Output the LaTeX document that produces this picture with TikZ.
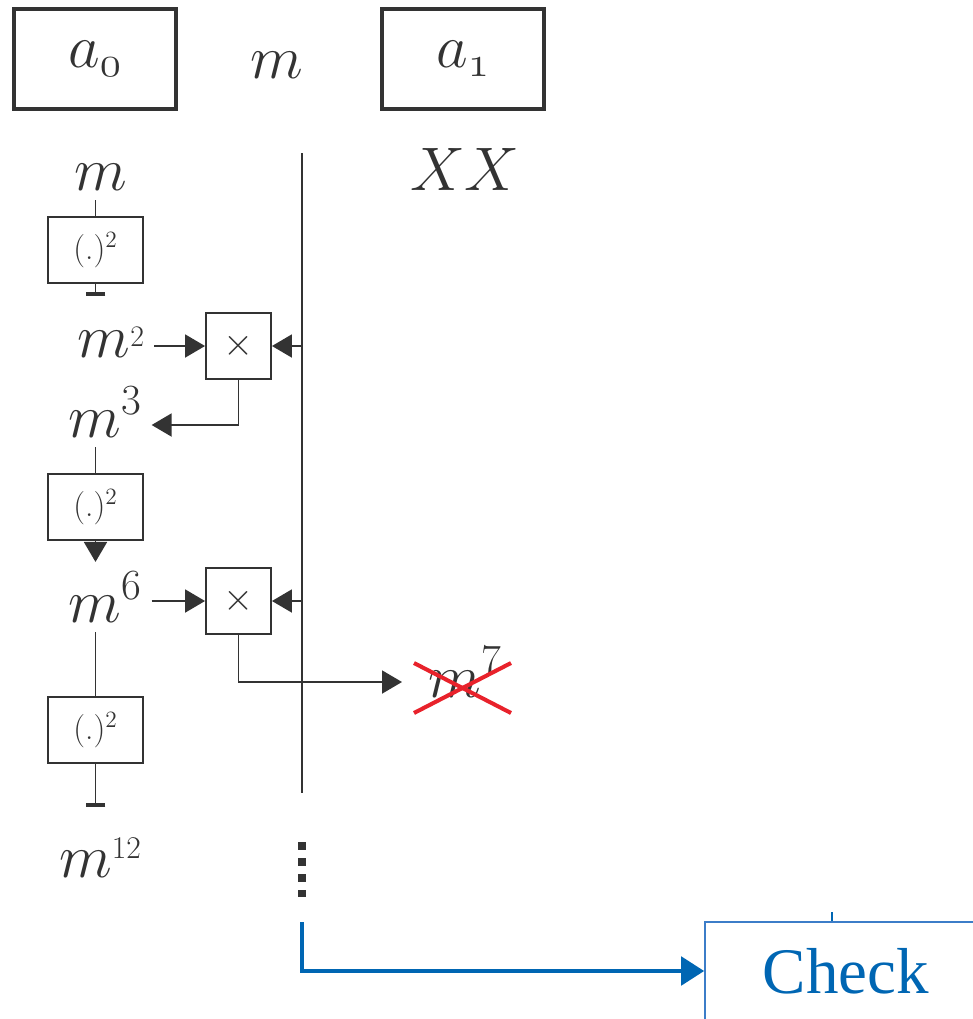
\RequirePackage{fix-cm}
\documentclass[tikz,border=0pt]{standalone}
\usepackage{fontspec}
\usepackage{tikz}
\usetikzlibrary{arrows.meta, positioning}
\newfontfamily\checkfont{Liberation Serif}
\definecolor{Ink}{HTML}{333333}
\definecolor{FlowBlue}{HTML}{0066B3}
\definecolor{BoxBlue}{HTML}{3C7DC8}
\definecolor{CrossRed}{HTML}{E8222B}
% small raised exponent
\newcommand{\smallexp}[3]{\raisebox{#2}{\fontsize{#3}{#3}\selectfont #1}}

\begin{document}
\begin{tikzpicture}[
    x=0.02cm, y=-0.02cm,
    >={Triangle[length=4mm, width=4.6mm]},
    line width=1.1pt,
    color=Ink,
    reg/.style={
        draw=Ink,
        line width=2pt,
        minimum width=3.24cm,
        minimum height=2cm,
        font=\fontsize{35}{42}\selectfont
    },
    val/.style={inner sep=0pt, outer sep=0.2cm, anchor=base, font=\fontsize{35}{42}\selectfont},
    sq/.style={draw=Ink, minimum width=1.9cm, minimum height=1.32cm, font=\fontsize{19}{22}\selectfont},
    mul/.style={draw=Ink, minimum width=1.3cm, minimum height=1.32cm, font=\fontsize{22}{26}\selectfont},
    cut/.style={-{Bar[width=4mm, line width=0.9mm]}},
    dots/.style={line width=0.16cm, dash pattern=on 1.5mm off 1.7mm},
    strike/.style={draw=CrossRed, line width=2.3pt},
    flow/.style={draw=FlowBlue, line width=2.8pt, -{Triangle[length=4.6mm, width=5.6mm]}},
    chkbox/.style={
        draw=BoxBlue,
        line width=0.9pt,
        minimum width=5.64cm,
        minimum height=1.96cm,
        text=FlowBlue,
        font=\checkfont\fontsize{37}{44}\selectfont
    }
]
\useasboundingbox (0,0) rectangle (973,1019);
\clip (0,0) rectangle (973,1019);

% registers
\node[reg] (a0) at (95,59) {$a_{\mathnormal{0}}$};
\node[val] (mtop) at (277,78) {$m$};
\node[reg] (a1) at (463,59) {$a_{\mathnormal{1}}$};

\node[val] (m1) at (101,190) {$m$};
\node[val] (xx) at (465,190) {$XX$};

% square and multiply chain
\node[sq] (sq1) at (95.5,250) {(.)$^2$};
\node[val] (m2) at (111,357) {$m$\smallexp{2}{5.7pt}{17pt}};
\node[mul] (mul1) at (238.5,346) {$\times$};
\node[val] (m3) at (105,437) {$m^3$};
\node[sq] (sq2) at (95.5,507) {(.)$^2$};
\node[val] (m6) at (105,622) {$m^6$};
\node[mul] (mul2) at (238.5,601) {$\times$};
\node[sq] (sq3) at (95.5,730) {(.)$^2$};
\node[val] (m12) at (100,877) {$m$\smallexp{12}{10.5pt}{18pt}};
\node[val, outer sep=15pt] (m7) at (465,697) {$m^7$};

\node[chkbox] (chk) at (846,971) {Check};

\coordinate (bus top) at (302,153);
\coordinate (bus bot) at (302,793);
\coordinate (stub1) at (95.5,296);
\coordinate (stub2) at (95.5,807);
\coordinate (dots top) at (302,842);
\coordinate (dots bot) at (302,897);
\coordinate (flow top) at (302,922);
\coordinate (tick) at (832,912);

\draw (bus top) -- (bus bot);

% first round
\draw (sq1.north |- m1.south) -- (sq1.north);
\draw[cut] (sq1.south) -- (stub1);
\draw[->] (m2.east |- mul1) -- (mul1);
\draw[->] (mul1 -| bus top) -- (mul1);
\draw[->] (mul1.south) |- ([shift={(0,-12)}]m3.base east);

% second round
\draw (sq2.north |- m3.south) -- (sq2.north);
\draw[->] (sq2.south) -- (sq2.south |- m6.north);
\draw[->] (m6.east |- mul2) -- (mul2);
\draw[->] (mul2 -| bus top) -- (mul2);
\draw[->] (mul2.south) |- ([shift={(0,-15)}]m7.base west);
\draw (sq3.north |- m6.south) -- (sq3.north);
\draw[cut] (sq3.south) -- (stub2);

% crossed out result
\draw[strike] ([shift={(-51,-34)}]m7.base) -- ([shift={(46,16)}]m7.base);
\draw[strike] ([shift={(-51,16)}]m7.base) -- ([shift={(46,-34)}]m7.base);

\draw[dots] (dots top) -- (dots bot);

% check
\draw[flow] (flow top) |- (chk.west);
\draw[draw=FlowBlue, line width=1.6pt] (tick) -- (tick |- chk.north);

\end{tikzpicture}
\end{document}
